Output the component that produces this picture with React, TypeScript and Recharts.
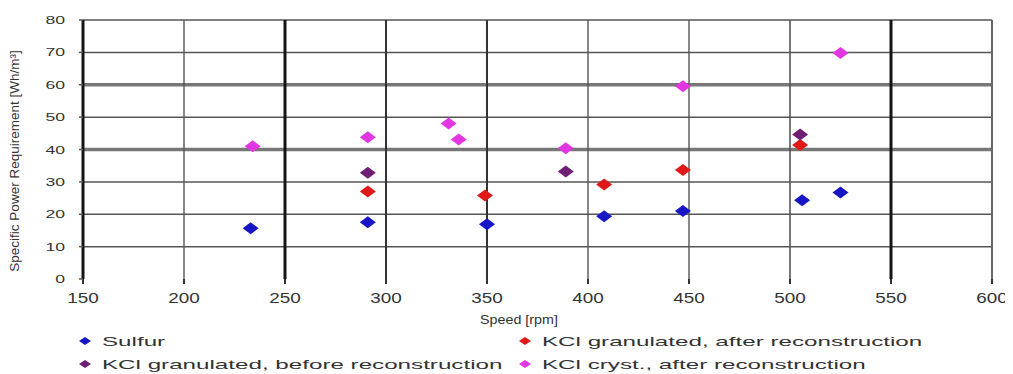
import { ReferenceLine, Scatter, ScatterChart, XAxis, YAxis } from "recharts";

// readings taken off the scanned plot
const sulfurRpm = [233, 291, 350, 408, 447, 506, 525];
const sulfurPower = [15.7, 17.5, 16.9, 19.4, 21, 24.3, 26.7];
const kclAfterRpm = [291, 349, 408, 447, 505];
const kclAfterPower = [27, 25.8, 29.2, 33.7, 41.4];
const kclBeforeRpm = [291, 389, 505];
const kclBeforePower = [32.8, 33.2, 44.6];
const kclCrystRpm = [234, 291, 331, 336, 389, 447, 525];
const kclCrystPower = [41, 43.8, 48, 43.1, 40.4, 59.5, 69.8];

const xTicks = [150, 200, 250, 300, 350, 400, 450, 500, 550, 600];
const yTicks = [0, 10, 20, 30, 40, 50, 60, 70, 80];

const toPoints = (xs: number[], ys: number[]) => xs.map((rpm, i) => ({ rpm, power: ys[i] }));

const series = [
  { name: "Sulfur", color: "#1616c4", data: toPoints(sulfurRpm, sulfurPower) },
  { name: "KCl granulated, after reconstruction", color: "#e01818", data: toPoints(kclAfterRpm, kclAfterPower) },
  { name: "KCl granulated, before reconstruction", color: "#6e1f74", data: toPoints(kclBeforeRpm, kclBeforePower) },
  { name: "KCl cryst., after reconstruction", color: "#e236e2", data: toPoints(kclCrystRpm, kclCrystPower) },
];

// the scan shows some grid lines heavier than others
const vLineStyle: Record<number, [number, string]> = {
  150: [3, "#151515"], 200: [1.4, "#555"], 250: [3, "#151515"], 300: [2, "#333"], 350: [2, "#333"],
  400: [1.4, "#555"], 450: [1.4, "#555"], 500: [1.6, "#555"], 550: [3, "#151515"], 600: [2, "#666"],
};
const hLineStyle = (v: number): [number, string] => (v === 40 || v === 60 ? [3.5, "#777"] : [1.5, "#555"]);

const FONT = "'Liberation Sans', Arial, sans-serif";

function Diamond(props: any) {
  const { cx, cy, fill } = props;
  if (cx == null || cy == null) return null;
  return <polygon points={`${cx},${cy - 6} ${cx + 8},${cy} ${cx},${cy + 6} ${cx - 8},${cy}`} fill={fill} />;
}

function XTick({ x, y, payload }: any) {
  return (
    <g transform={`translate(${x},${y})`}>
      <text transform="scale(1.35,1)" textAnchor="middle" dy={17} fontSize={14} fontFamily={FONT} fill="#333">
        {payload.value}
      </text>
    </g>
  );
}

function YTick({ x, y, payload }: any) {
  return (
    <g transform={`translate(${x - 12},${y})`}>
      <text transform="scale(1.6,1)" textAnchor="end" dy={4} fontSize={11} fontFamily={FONT} fill="#333">
        {payload.value}
      </text>
    </g>
  );
}

const W = 1005;
const H = 366;

export default function App() {
  return (
    <div style={{ position: "relative", width: W, height: H }}>
      <ScatterChart width={W} height={H} margin={{ top: 12, right: 21, left: 0, bottom: 0 }}>
        <XAxis
          type="number"
          dataKey="rpm"
          domain={[150, 600]}
          ticks={xTicks}
          height={95}
          axisLine={false}
          tickSize={5}
          tickLine={{ stroke: "#333", strokeWidth: 2 }}
          tick={<XTick />}
          label={{
            content: () => (
              <text x={511} y={316} textAnchor="middle" fontSize={13} fontFamily={FONT} fill="#333" transform="translate(511,0) scale(1.1,1) translate(-511,0)">
                Speed [rpm]
              </text>
            ),
          }}
        />
        <YAxis
          type="number"
          dataKey="power"
          domain={[0, 80]}
          ticks={yTicks}
          width={75}
          axisLine={false}
          tickSize={4}
          tickLine={{ stroke: "#555", strokeWidth: 1.5 }}
          tick={<YTick />}
          label={{
            content: () => (
              <text transform="translate(11,153) rotate(-90)" textAnchor="middle" fontSize={13.5} fontFamily={FONT} fill="#333">
                Specific Power Requirement [Wh/m³]
              </text>
            ),
          }}
        />
        {yTicks.filter((v) => v > 0).map((v) => (
          <ReferenceLine key={`h${v}`} y={v} stroke={hLineStyle(v)[1]} strokeWidth={hLineStyle(v)[0]} />
        ))}
        {xTicks.map((v) => (
          <ReferenceLine key={`v${v}`} x={v} stroke={vLineStyle[v][1]} strokeWidth={vLineStyle[v][0]} />
        ))}
        {series.map((s) => (
          <Scatter key={s.name} name={s.name} data={s.data} fill={s.color} shape={<Diamond />} isAnimationActive={false} />
        ))}
      </ScatterChart>
      <svg width={W} height={H} style={{ position: "absolute", left: 0, top: 0, pointerEvents: "none" }}>
        {series.map((s, i) => {
          const col = i % 2;
          const row = Math.floor(i / 2);
          const dx = col === 0 ? 77 : 517;
          const dy = row === 0 ? 333 : 356;
          return (
            <g key={s.name}>
              <polygon points={`${dx},${dy - 4} ${dx + 6},${dy} ${dx},${dy + 4} ${dx - 6},${dy}`} fill={s.color} />
              <g transform={`translate(${dx + 17},${dy + 5})`}>
                <text transform="scale(1.86,1)" fontSize={13} fontFamily={FONT} fill="#333">
                  {s.name}
                </text>
              </g>
            </g>
          );
        })}
      </svg>
    </div>
  );
}
